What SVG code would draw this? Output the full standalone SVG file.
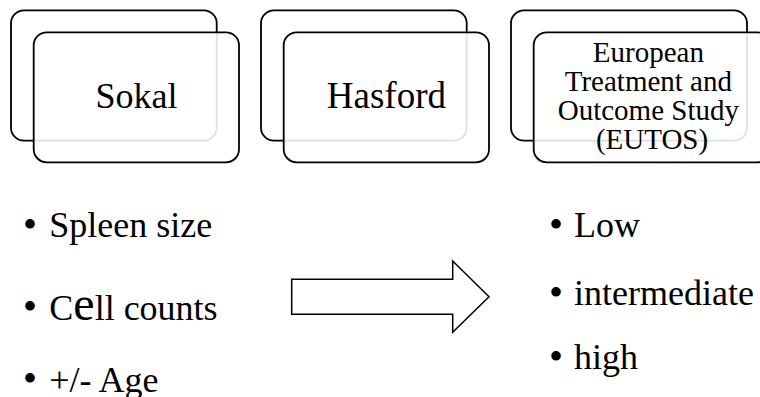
<svg xmlns="http://www.w3.org/2000/svg" width="760" height="397" viewBox="0 0 760 397">
  <style>
    .back { fill: #ffffff; stroke: #000000; stroke-width: 1.8; }
    .front { fill: #ffffff; fill-opacity: 0.88; stroke: #000000; stroke-width: 1.8; }
    .label { font-family: "Liberation Serif", "Times New Roman", serif; fill: #000000; text-anchor: middle; }
    .item { font-family: "Liberation Serif", "Times New Roman", serif; font-size: 36px; fill: #000000; }
    .dot { font-family: "Liberation Serif", "Times New Roman", serif; font-size: 40px; fill: #000000; text-anchor: middle; }
    .arrow { fill: #ffffff; stroke: #000000; stroke-width: 1.5; stroke-linejoin: miter; }
  </style>
  <rect width="760" height="397" fill="#ffffff"/>

  <!-- Stacked cards -->
  <g id="node-sokal">
    <rect class="back" x="11" y="10.3" width="205.7" height="130.4" rx="13"/>
    <rect class="front" x="33.7" y="32.3" width="205.3" height="130" rx="13"/>
    <text class="label" x="136.4" y="108.3" font-size="36">Sokal</text>
  </g>

  <g id="node-hasford">
    <rect class="back" x="261" y="10.3" width="205.7" height="130.4" rx="13"/>
    <rect class="front" x="283.7" y="32.3" width="205.3" height="130" rx="13"/>
    <text class="label" x="386.4" y="108.3" font-size="37">Hasford</text>
  </g>

  <g id="node-eutos">
    <rect class="back" x="511" y="10.3" width="236" height="130.4" rx="13"/>
    <rect class="front" x="533.7" y="32.3" width="236.6" height="130" rx="13"/>
    <text class="label" font-size="29">
      <tspan x="652" y="61.7">European</tspan>
      <tspan x="652" y="90.7">Treatment and</tspan>
      <tspan x="652" y="119.7">Outcome Study</tspan>
      <tspan x="652" y="148.5">(EUTOS)</tspan>
    </text>
  </g>

  <!-- Criteria list -->
  <g id="node-criteria">
    <text class="dot" x="30" y="238">•</text>
    <text class="item" x="49.3" y="237.3">Spleen size</text>
    <text class="dot" x="30" y="320.2">•</text>
    <text class="item" x="49.3" y="319.5">C<tspan font-size="48">e</tspan>ll counts</text>
    <text class="dot" x="30" y="392.2">•</text>
    <text class="item" x="49.3" y="391.5">+/- Age</text>
  </g>

  <!-- Risk groups -->
  <g id="node-risk">
    <text class="dot" x="556" y="238">•</text>
    <text class="item" x="574" y="237.3">Low</text>
    <text class="dot" x="556" y="305.7">•</text>
    <text class="item" x="574" y="305">intermediate</text>
    <text class="dot" x="556" y="369.7">•</text>
    <text class="item" x="574" y="369">high</text>
  </g>

  <!-- Block arrow -->
  <g id="connectors">
    <polygon class="arrow" points="291.7,279.3 452.7,279.3 452.7,261 489,296.7 452.7,332.3 452.7,314.3 291.7,314.3"/>
  </g>
</svg>
